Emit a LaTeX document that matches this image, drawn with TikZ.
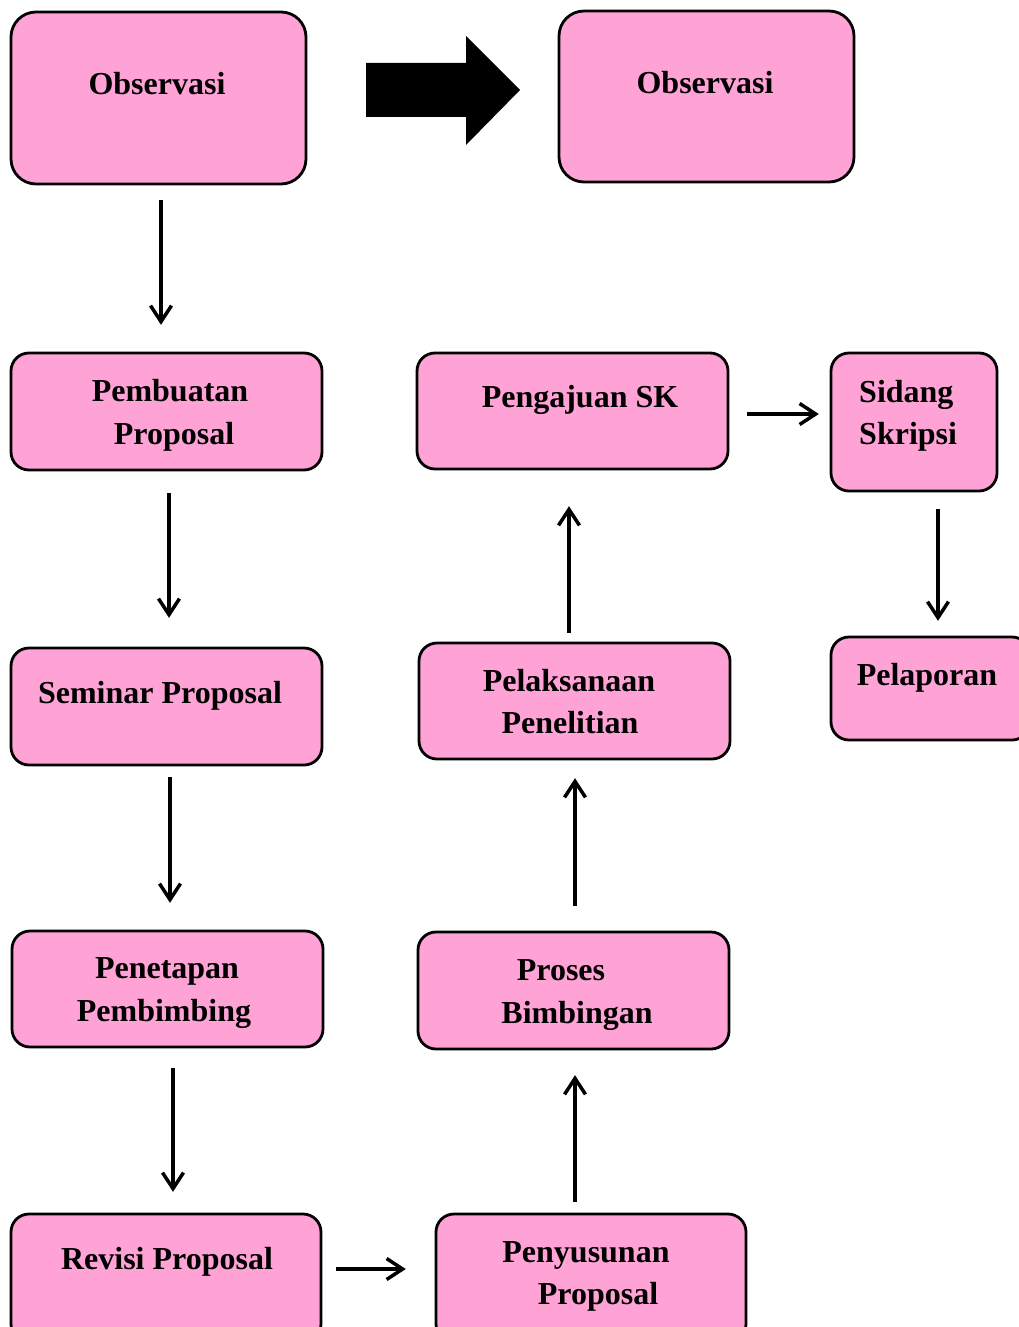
\documentclass[tikz,border=0pt]{standalone}
\usepackage{fontspec}
\setmainfont{Liberation Serif}
\usetikzlibrary{arrows.meta}
\definecolor{boxpink}{HTML}{FFA3D6}
\begin{document}
\begin{tikzpicture}[x=1pt,y=-1pt,
  box/.style={draw=black,line width=2.8pt,fill=boxpink,rounded corners=18pt},
  bigbox/.style={box,rounded corners=25pt},
  lbl/.style={anchor=base,inner sep=0pt,font=\fontsize{32}{40}\selectfont\bfseries},
  arr/.style={line width=3.5pt,-{Straight Barb[length=16pt,width=21pt,line width=3.5pt]}}]
\useasboundingbox (0,0) rectangle (1019,1327);
% boxes
\draw[bigbox] (11,12) rectangle (306,184);
\node[inner sep=0pt,minimum width=295pt,minimum height=172pt] (obsA) at (158.5,98) {};
\draw[bigbox] (559,11) rectangle (854,182);
\node[inner sep=0pt,minimum width=295pt,minimum height=171pt] (obsB) at (706.5,96.5) {};
\draw[box] (11,353) rectangle (322,470);
\node[inner sep=0pt,minimum width=311pt,minimum height=117pt] (pemb) at (166.5,411.5) {};
\draw[box] (11,648) rectangle (322,765);
\node[inner sep=0pt,minimum width=311pt,minimum height=117pt] (sem) at (166.5,706.5) {};
\draw[box] (12,931) rectangle (323,1047);
\node[inner sep=0pt,minimum width=311pt,minimum height=116pt] (pen) at (167.5,989) {};
\draw[box] (11,1214) rectangle (321,1342);
\node[inner sep=0pt,minimum width=310pt,minimum height=128pt] (rev) at (166,1278) {};
\draw[box] (436,1214) rectangle (746,1342);
\node[inner sep=0pt,minimum width=310pt,minimum height=128pt] (peny) at (591,1278) {};
\draw[box] (418,932) rectangle (729,1049);
\node[inner sep=0pt,minimum width=311pt,minimum height=117pt] (pros) at (573.5,990.5) {};
\draw[box] (419,643) rectangle (730,759);
\node[inner sep=0pt,minimum width=311pt,minimum height=116pt] (pel) at (574.5,701) {};
\draw[box] (417,353) rectangle (728,469);
\node[inner sep=0pt,minimum width=311pt,minimum height=116pt] (sk) at (572.5,411) {};
\draw[box] (831,353) rectangle (997,491);
\node[inner sep=0pt,minimum width=166pt,minimum height=138pt] (sid) at (914,422) {};
\draw[box] (831,637) rectangle (1030,740);
\node[inner sep=0pt,minimum width=199pt,minimum height=103pt] (lap) at (930.5,688.5) {};
% labels
\node[lbl] (tA) at (157,95) {Observasi};
\node[lbl] (tB) at (705,94) {Observasi};
\node[lbl] (t1a) at (170,401) {Pembuatan};
\node[lbl] (t1b) at (174,444) {Proposal};
\node[lbl] (t2) at (160,703) {Seminar Proposal};
\node[lbl] (t3a) at (167,978) {Penetapan};
\node[lbl] (t3b) at (164,1021) {Pembimbing};
\node[lbl] (t4) at (167,1269) {Revisi Proposal};
\node[lbl] (t5a) at (586,1262) {Penyusunan};
\node[lbl] (t5b) at (598,1304) {Proposal};
\node[lbl] (t6a) at (561,980) {Proses};
\node[lbl] (t6b) at (577,1023) {Bimbingan};
\node[lbl] (t7a) at (569,691) {Pelaksanaan};
\node[lbl] (t7b) at (570,733) {Penelitian};
\node[lbl] (t8) at (580,407) {Pengajuan SK};
\node[lbl,anchor=base west] (t9a) at (859,402) {Sidang};
\node[lbl,anchor=base west] (t9b) at (859,444) {Skripsi};
\node[lbl] (t10) at (927,685) {Pelaporan};
% big arrow
\fill[black] (366,63) -- (466,63) -- (466,36) -- (520,90) -- (466,145) -- (466,117) -- (366,117) -- cycle;
% connectors
\draw[arr] ([xshift=2.5pt,yshift=-16pt]obsA.south) -- ([xshift=-5.5pt,yshift=28pt]pemb.north);
\draw[arr] ([xshift=2.5pt,yshift=-23pt]pemb.south) -- ([xshift=2.5pt,yshift=30pt]sem.north);
\draw[arr] ([xshift=3.5pt,yshift=-12pt]sem.south) -- ([xshift=2.5pt,yshift=28pt]pen.north);
\draw[arr] ([xshift=5.5pt,yshift=-21pt]pen.south) -- ([xshift=7pt,yshift=22pt]rev.north);
\draw[arr] ([xshift=15pt,yshift=9pt]rev.east) -- ([xshift=-30pt,yshift=9pt]peny.west);
\draw[arr] ([xshift=-16pt,yshift=12pt]peny.north) -- ([xshift=1.5pt,yshift=-26pt]pros.south);
\draw[arr] ([xshift=1.5pt,yshift=26pt]pros.north) -- ([xshift=0.5pt,yshift=-19pt]pel.south);
\draw[arr] ([xshift=-5.5pt,yshift=10pt]pel.north) -- ([xshift=-3.5pt,yshift=-37pt]sk.south);
\draw[arr] ([xshift=19pt,yshift=-3pt]sk.east) -- ([xshift=-12pt,yshift=8pt]sid.west);
\draw[arr] ([xshift=24pt,yshift=-18pt]sid.south) -- ([xshift=7.5pt,yshift=16pt]lap.north);
\end{tikzpicture}
\end{document}
